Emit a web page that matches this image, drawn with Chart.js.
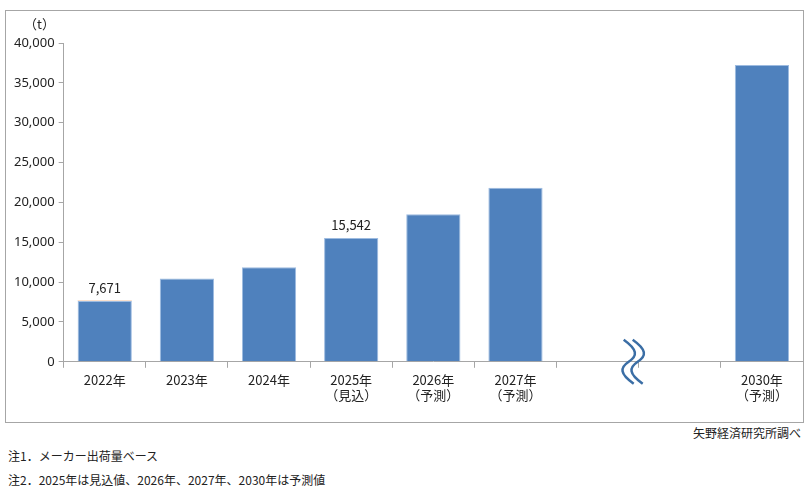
<!DOCTYPE html>
<html lang="ja">
<head>
<meta charset="UTF-8" />
<title>出荷量推移</title>
<script src="https://cdn.jsdelivr.net/npm/chart.js"></script>
<style>
  body {
    margin: 0;
    background: white;
    font-family: 'Noto Sans CJK JP', sans-serif;
    color: #222;
    width: 811px;
    height: 493px;
    position: relative;
    overflow: hidden;
  }
  .frame {
    position: absolute;
    left: 5px;
    top: 10px;
    width: 797px;
    height: 411px;
    border: 1px solid #a6a6a6;
  }
  .frame canvas { position: absolute; left: 0; top: 0; }
  .unit {
    position: absolute;
    left: 24px;
    top: 14px;
    font-size: 13px;
  }
  .source {
    position: absolute;
    right: 10px;
    top: 424px;
    font-size: 12px;
  }
  .note {
    position: absolute;
    left: 8px;
    font-size: 12px;
  }
</style>
</head>
<body>
<div class="frame">
  <canvas id="chart" width="797" height="411"></canvas>
</div>
<div class="unit">（t）</div>
<div class="source">矢野経済研究所調べ</div>
<div class="note" style="top:447px">注1．メーカー出荷量ベース</div>
<div class="note" style="top:471px">注2．2025年は見込値、2026年、2027年、2030年は予測値</div>

<script>
  // 年ごとの出荷量（t）
  const categories = [
    ["2022年"], ["2023年"], ["2024年"], ["2025年", "（見込）"],
    ["2026年", "（予測）"], ["2027年", "（予測）"], [""], [""], ["2030年", "（予測）"]
  ];
  const shipments = [7630, 10450, 11850, 15542, 18500, 21850, null, null, 37250];
  const topSliver = [41, null, null, null, null, null, null, null, null];
  const labelled = { 0: "7,671", 3: "15,542" };
  const yTicks = [0, 5000, 10000, 15000, 20000, 25000, 30000, 35000, 40000];

  const extras = {
    id: "extras",
    afterDatasetsDraw(chart) {
      const ctx = chart.ctx;
      const x = chart.scales.x, y = chart.scales.y;
      ctx.save();
      ctx.fillStyle = "#222";
      ctx.font = "13px 'Noto Sans CJK JP', sans-serif";
      ctx.textAlign = "center";
      ctx.textBaseline = "bottom";
      Object.keys(labelled).forEach(i => {
        const total = (shipments[i] || 0) + (topSliver[i] || 0);
        ctx.fillText(labelled[i], x.getPixelForValue(+i), y.getPixelForValue(total) - 6);
      });
      // 省略記号（波線）
      const bx = (x.getPixelForValue(6) + x.getPixelForValue(7)) / 2 - 10;
      const by = y.getPixelForValue(0);
      ctx.strokeStyle = "#3b6ea5";
      ctx.lineWidth = 2.5;
      [0, 9].forEach(dx => {
        ctx.beginPath();
        ctx.moveTo(bx - 5 + dx, by - 22);
        ctx.bezierCurveTo(bx + 9 + dx, by - 12, bx + 9 + dx, by - 6, bx + dx, by);
        ctx.bezierCurveTo(bx - 9 + dx, by + 6, bx - 9 + dx, by + 12, bx + 5 + dx, by + 22);
        ctx.stroke();
      });
      ctx.restore();
    }
  };

  new Chart(document.getElementById("chart"), {
    type: "bar",
    data: {
      labels: categories,
      datasets: [
        {
          data: shipments,
          backgroundColor: "#4f81bd",
          borderColor: "#9dbbe0",
          borderWidth: 1,
          barPercentage: 0.66,
          categoryPercentage: 1
        },
        {
          data: topSliver,
          backgroundColor: "#e8823a",
          barPercentage: 0.66,
          categoryPercentage: 1
        }
      ]
    },
    options: {
      responsive: false,
      animation: false,
      layout: { padding: { top: 32, right: 0, bottom: 15, left: 4 } },
      plugins: { legend: { display: false }, tooltip: { enabled: false } },
      scales: {
        x: {
          stacked: true,
          grid: { display: true, drawOnChartArea: false, offset: true, tickLength: 6, color: "#a6a6a6" },
          border: { color: "#a6a6a6" },
          ticks: { color: "#222", font: { size: 13, family: "'Noto Sans CJK JP', sans-serif" }, maxRotation: 0, autoSkip: false, padding: 4 }
        },
        y: {
          stacked: true,
          min: 0,
          max: 40000,
          afterBuildTicks: axis => { axis.ticks = yTicks.map(v => ({ value: v })); },
          grid: { display: true, drawOnChartArea: false, tickLength: 5, color: "#a6a6a6" },
          border: { color: "#a6a6a6" },
          ticks: {
            color: "#222",
            font: { size: 13, family: "'Noto Sans', sans-serif" },
            padding: 4,
            callback: v => v.toLocaleString("en-US")
          }
        }
      }
    },
    plugins: [extras]
  });
</script>
</body>
</html>
